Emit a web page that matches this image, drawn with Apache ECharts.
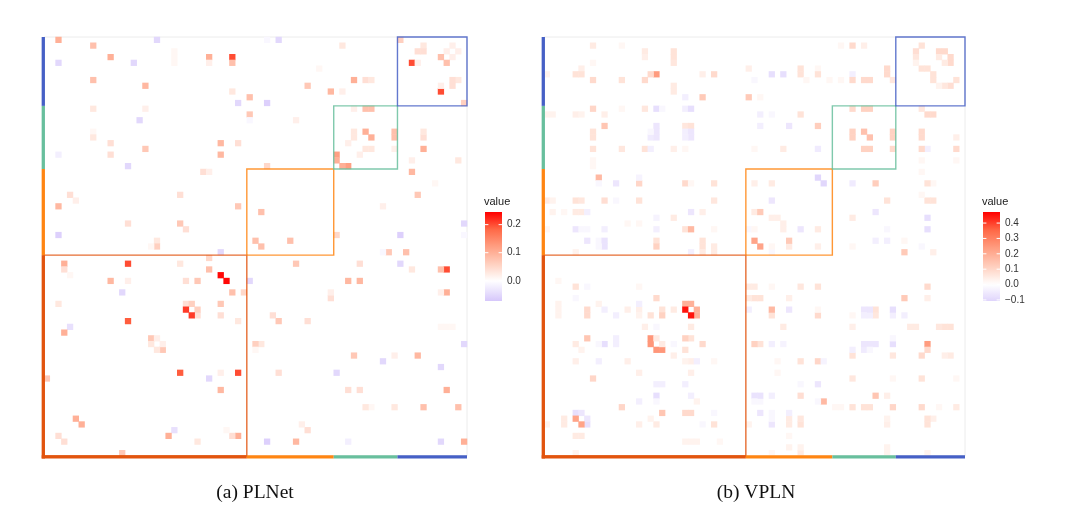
<!DOCTYPE html>
<html>
<head>
<meta charset="utf-8">
<script src="https://cdn.jsdelivr.net/npm/echarts@6/dist/echarts.min.js"></script>
<style>
  html, body { margin: 0; background: #fff; }
  #chart { width: 1080px; height: 517px; }
</style>
</head>
<body>
<div id="chart"></div>
<script>
// 73 nodes in 4 groups, group 1 sits bottom-left
const nodeCount = 73;
const groupSizes = [35, 15, 11, 12];

// [col, row, value], one triangle only (the matrices are symmetric)
const plnetCells = [
  [2,72,0.10],[8,71,0.08],[19,72,-0.05],[11,69,0.10],[2,68,-0.05],[15,68,-0.05],[22,70,0.01],[22,68,0.01],[22,69,0.01],
  [28,69,0.10],[28,68,0.02],[32,69,0.20],[32,68,0.08],[8,65,0.08],[17,64,0.09],[32,63,0.03],[33,61,-0.05],[35,62,0.08],
  [8,60,0.03],[17,60,0.02],[35,59,0.07],[16,58,-0.05],[35,58,-0.01],[8,56,0.01],[8,55,0.03],[11,54,0.04],[17,53,0.07],
  [30,54,0.09],[33,54,0.04],[2,52,-0.02],[11,52,0.04],[30,52,0.09],[14,50,-0.05],[27,49,0.04],[28,49,0.02],
  [38,72,-0.01],[40,72,-0.05],[51,71,0.03],[61,72,0.06],[65,71,0.03],[64,70,0.04],[65,70,0.04],[70,71,0.02],[69,70,0.02],
  [68,69,0.08],[63,68,0.20],[64,68,0.02],[53,65,0.10],[55,65,0.04],[56,65,0.03],[45,64,0.07],[49,63,0.09],[51,63,0.02],
  [38,61,-0.06],[43,58,0.02],[53,60,0.02],[55,60,0.08],[56,60,0.08],[53,56,0.03],[53,55,0.03],[55,56,0.10],[52,54,0.02],
  [50,52,0.12],[50,51,0.10],[38,50,0.05],[47,67,0.01],
  [4,45,0.04],[5,44,0.02],[23,45,0.04],[2,43,0.09],[33,43,0.07],[14,40,0.04],[23,40,0.07],[24,39,0.04],[2,38,-0.06],
  [19,37,0.03],[19,36,0.06],[18,36,0.01],[30,35,-0.05],[28,34,0.05],[3,33,0.10],[14,33,0.20],[23,33,0.03],[3,32,0.04],
  [4,31,0.01],[28,32,0.08],[30,31,0.24],[11,30,0.09],[14,30,0.02],[24,30,0.04],[26,30,0.07],[13,28,-0.05],[2,26,0.03],
  [24,26,0.04],[25,26,0.06],[24,25,0.21],[14,23,0.19],[4,22,-0.04],[3,21,0.10],[18,20,0.07],[19,20,0.02],[18,19,0.03],
  [0,13,0.07],[5,6,0.10],[2,3,0.04],[37,42,0.08],[36,37,0.08]
];

const vplnCells = [
  [8,71,0.05],[13,71,0.02],[17,70,0.05],[17,69,0.04],[22,70,0.07],[22,69,0.07],[22,68,0.06],[8,68,0.02],[6,67,0.04],
  [5,66,0.07],[6,66,0.07],[19,66,0.24],[18,66,0.09],[0,66,0.03],[27,66,0.04],[29,66,0.09],[8,65,0.09],[13,65,0.07],
  [17,65,0.09],[22,64,0.05],[22,63,0.05],[24,62,-0.04],[27,62,0.13],[35,62,0.13],[35,67,0.04],[8,60,0.10],[10,59,0.04],
  [5,59,0.04],[0,59,0.03],[6,59,0.03],[1,59,0.03],[13,60,0.02],[17,60,0.06],[19,60,-0.08],[20,60,-0.02],[24,60,-0.04],
  [25,60,-0.08],[10,57,0.14],[8,56,0.07],[8,55,0.07],[19,57,-0.06],[19,56,-0.06],[18,55,-0.05],[19,55,-0.06],[18,56,-0.02],
  [24,57,0.06],[25,57,0.07],[24,56,-0.04],[25,56,-0.06],[25,55,-0.06],[24,55,-0.04],[24,53,0.02],[8,53,0.07],[13,53,0.06],
  [17,53,0.07],[18,53,-0.04],[22,53,0.04],[8,51,0.02],[8,50,0.02],[9,48,0.17],[9,47,-0.02],[12,47,-0.06],[16,47,0.10],
  [16,48,-0.03],[24,47,0.09],[25,47,0.02],[29,47,0.07],[0,44,0.05],[1,44,0.03],[5,44,0.07],[6,44,0.06],[10,44,0.08],
  [12,44,-0.02],[16,44,0.07],[29,44,0.06],[1,42,0.03],[3,42,0.02],[5,42,0.05],[6,42,0.05],[7,42,-0.04],[25,42,-0.06],
  [27,42,0.04],[19,41,-0.03],[22,41,0.05],[14,40,0.02],[16,40,0.02],[5,39,-0.06],[6,39,-0.02],[7,39,-0.02],[10,39,-0.04],
  [19,39,-0.04],[24,39,0.07],[25,39,0.17],[29,39,0.02],[7,37,-0.06],[9,37,-0.02],[10,37,-0.07],[10,36,-0.07],[9,36,-0.02],
  [19,37,0.07],[19,36,0.11],[27,37,0.07],[27,36,0.07],[29,36,0.05],[36,37,0.22],[35,39,-0.02],[36,42,0.05],[0,39,0.02],
  [51,71,0.02],[53,71,0.09],[55,71,0.04],[65,71,0.07],[64,70,0.08],[64,69,0.06],[68,70,0.09],[69,70,0.09],[68,69,0.05],
  [65,67,0.07],[66,67,0.07],[64,68,0.03],[39,66,-0.08],[41,66,-0.08],[44,67,0.07],[44,66,0.07],[47,67,0.02],[47,66,0.07],
  [36,65,-0.02],[45,65,0.02],[49,65,0.02],[51,65,0.02],[53,66,-0.04],[53,65,0.09],[55,65,0.09],[56,65,0.09],[59,67,0.09],
  [59,66,0.09],[60,65,0.06],[37,62,0.02],[37,59,-0.04],[39,59,-0.02],[44,59,0.07],[37,57,-0.04],[42,57,-0.06],[47,57,0.12],
  [36,53,0.02],[41,53,0.05],[47,53,-0.05],[53,60,0.09],[55,60,0.11],[56,60,0.11],[53,56,0.11],[53,55,0.11],[55,56,0.15],
  [36,47,0.04],[39,47,0.05],[47,48,-0.10],[39,44,-0.06],[37,42,0.13],[39,41,0.04],[40,41,0.04],[36,39,0.02],
  [5,35,0.03],[25,35,-0.04],[27,35,0.05],[29,35,0.05],[2,30,0.02],[5,29,0.07],[7,29,-0.02],[5,27,-0.02],[16,29,0.02],
  [19,27,0.09],[2,26,0.03],[2,25,0.03],[7,25,0.09],[7,24,0.09],[9,26,0.03],[10,25,-0.04],[12,24,-0.04],[14,25,0.04],
  [16,25,0.04],[16,24,0.03],[18,24,0.07],[20,25,0.07],[20,24,0.11],[22,25,0.05],[24,26,0.19],[25,26,0.19],[24,25,0.45],
  [17,22,0.04],[19,22,-0.02],[7,20,0.14],[5,19,0.05],[10,19,-0.08],[9,19,-0.02],[12,20,-0.04],[12,19,-0.04],[18,20,0.25],
  [18,19,0.25],[19,20,0.05],[16,26,-0.04],[5,16,0.04],[9,16,-0.04],[14,16,0.04],[8,13,0.10],[5,7,-0.08],[6,7,-0.06],
  [5,6,0.22],[0,5,0.03],[3,6,0.05],[3,5,0.05],[6,18,0.03],[2,24,0.03]
];

const plnetRange = [-0.072, 0.245];
const vplnRange = [-0.107, 0.472];
const plnetTicks = [0.0, 0.1, 0.2];
const vplnTicks = [-0.1, 0.0, 0.1, 0.2, 0.3, 0.4];
const panelTitles = ['(a) PLNet', '(b) VPLN'];

const groupColors = ['#e2540e', '#ff8512', '#68bf9d', '#4660c6'];
const highStops = ['#ffffff', '#ffcfbe', '#ff9e81', '#ff6846', '#ff0000'];
const lowEnd = '#7241f1';

const panels = [
  { left: 44, top: 37, width: 423, height: 419, legendX: 485, captionX: 255 },
  { left: 544, top: 37, width: 421, height: 419, legendX: 983, captionX: 756 }
];

function hex(c) {
  return [1, 3, 5].map(i => parseInt(c.slice(i, i + 2), 16));
}
function mix(a, b, t) {
  const p = hex(a), q = hex(b);
  return 'rgb(' + p.map((v, i) => Math.round(v + (q[i] - v) * t)).join(',') + ')';
}
function fillColor(v, maxAbs) {
  if (v < 0) return mix('#ffffff', lowEnd, Math.min(-v / maxAbs, 1));
  const t = Math.min(v / maxAbs, 1) * (highStops.length - 1);
  const i = Math.min(Math.floor(t), highStops.length - 2);
  return mix(highStops[i], highStops[i + 1], t - i);
}
function sampleColors(range, n) {
  const maxAbs = Math.max(Math.abs(range[0]), Math.abs(range[1]));
  const out = [];
  for (let k = 0; k < n; k++) out.push(fillColor(range[0] + (range[1] - range[0]) * k / (n - 1), maxAbs));
  return out;
}

function symmetricCells(cells) {
  const m = new Map();
  cells.forEach(([c, r, v]) => {
    m.set(c + ',' + r, [c, r, v]);
    m.set(r + ',' + c, [r, c, v]);
  });
  return Array.from(m.values());
}

const categories = Array.from({ length: nodeCount }, (_, i) => String(i));
const blocks = [];
groupSizes.reduce((start, size, i) => { blocks.push([start, start + size, i]); return start + size; }, 0);

function blockRect(api) {
  const s = api.value(0), e = api.value(1);
  const size = api.size([1, 1]);
  const a = api.coord([s, s]), b = api.coord([e - 1, e - 1]);
  return {
    x0: a[0] - size[0] / 2, y0: a[1] + size[1] / 2,
    x1: b[0] + size[0] / 2, y1: b[1] - size[1] / 2, size: size
  };
}

function renderBlock(params, api) {
  const r = blockRect(api);
  return {
    type: 'rect',
    shape: { x: r.x0, y: r.y1, width: r.x1 - r.x0, height: r.y0 - r.y1 },
    style: { fill: 'none', stroke: groupColors[api.value(2)], lineWidth: 1.4, opacity: 0.85 }
  };
}

function renderBar(params, api) {
  const r = blockRect(api);
  const o = api.coord([0, 0]);
  const xl = o[0] - r.size[0] / 2 - 0.7;
  const yb = o[1] + r.size[1] / 2 + 0.9;
  const first = api.value(0) === 0;
  const c = groupColors[api.value(2)];
  return {
    type: 'group',
    children: [
      { type: 'line', shape: { x1: xl, y1: first ? yb + 1.6 : r.y0, x2: xl, y2: r.y1 }, style: { stroke: c, lineWidth: 3.3 } },
      { type: 'line', shape: { x1: first ? xl - 1.6 : r.x0, y1: yb, x2: r.x1, y2: yb }, style: { stroke: c, lineWidth: 3.3 } }
    ]
  };
}

function fmt(v) {
  return (v < 0 ? '\u2212' : '') + Math.abs(v).toFixed(1);
}

function legendGraphics(x, range, ticks) {
  const top = 212, h = 89, w = 17;
  const toY = v => top + (range[1] - v) / (range[1] - range[0]) * h;
  const cols = sampleColors(range, 41).reverse();
  const els = [
    { type: 'text', left: x - 1, top: 196, style: { text: 'value', font: '11px "Liberation Sans", Arial, sans-serif', fill: '#1a1a1a' } },
    {
      type: 'rect', shape: { x: x, y: top, width: w, height: h },
      style: { fill: new echarts.graphic.LinearGradient(0, 0, 0, 1, cols.map((c, i) => ({ offset: i / (cols.length - 1), color: c }))) }
    }
  ];
  ticks.forEach(t => {
    const y = toY(t);
    els.push({ type: 'line', shape: { x1: x, y1: y, x2: x + 3.4, y2: y }, style: { stroke: '#ffffff', lineWidth: 1 } });
    els.push({ type: 'line', shape: { x1: x + w - 3.4, y1: y, x2: x + w, y2: y }, style: { stroke: '#ffffff', lineWidth: 1 } });
    els.push({
      type: 'text', x: x + w + 5, y: y,
      style: { text: fmt(t), font: '10px "Liberation Sans", Arial, sans-serif', fill: '#333333', verticalAlign: 'middle' }
    });
  });
  return els;
}

const chart = echarts.init(document.getElementById('chart'), null, { renderer: 'canvas' });
const ranges = [plnetRange, vplnRange];
const cellSets = [symmetricCells(plnetCells), symmetricCells(vplnCells)];
const tickSets = [plnetTicks, vplnTicks];

const series = [];
panels.forEach((p, i) => {
  series.push({
    type: 'heatmap', xAxisIndex: i, yAxisIndex: i, data: cellSets[i],
    emphasis: { disabled: true }, itemStyle: { borderWidth: 0 }
  });
});
panels.forEach((p, i) => {
  series.push({ type: 'custom', xAxisIndex: i, yAxisIndex: i, data: blocks, renderItem: renderBlock, clip: false, z: 5, silent: true });
  series.push({ type: 'custom', xAxisIndex: i, yAxisIndex: i, data: blocks, renderItem: renderBar, clip: false, z: 6, silent: true });
});

let graphics = [];
panels.forEach((p, i) => {
  graphics = graphics.concat(legendGraphics(p.legendX, ranges[i], tickSets[i]));
  graphics.push({
    type: 'text', x: p.captionX, y: 493,
    style: { text: panelTitles[i], font: '19.5px "Liberation Serif", "Times New Roman", serif', fill: '#111111', align: 'center', verticalAlign: 'middle' }
  });
});

chart.setOption({
  animation: false,
  backgroundColor: '#ffffff',
  grid: panels.map(p => ({
    left: p.left, top: p.top, width: p.width, height: p.height,
    show: true, borderColor: '#ececec', borderWidth: 1, backgroundColor: 'transparent'
  })),
  xAxis: panels.map((p, i) => ({
    type: 'category', gridIndex: i, data: categories,
    axisLine: { show: false }, axisTick: { show: false }, axisLabel: { show: false }, splitLine: { show: false }
  })),
  yAxis: panels.map((p, i) => ({
    type: 'category', gridIndex: i, data: categories,
    axisLine: { show: false }, axisTick: { show: false }, axisLabel: { show: false }, splitLine: { show: false }
  })),
  visualMap: panels.map((p, i) => ({
    type: 'continuous', show: false, seriesIndex: i, dimension: 2,
    min: ranges[i][0], max: ranges[i][1],
    inRange: { color: sampleColors(ranges[i], 41) }
  })),
  series: series,
  graphic: graphics
});
</script>
</body>
</html>
